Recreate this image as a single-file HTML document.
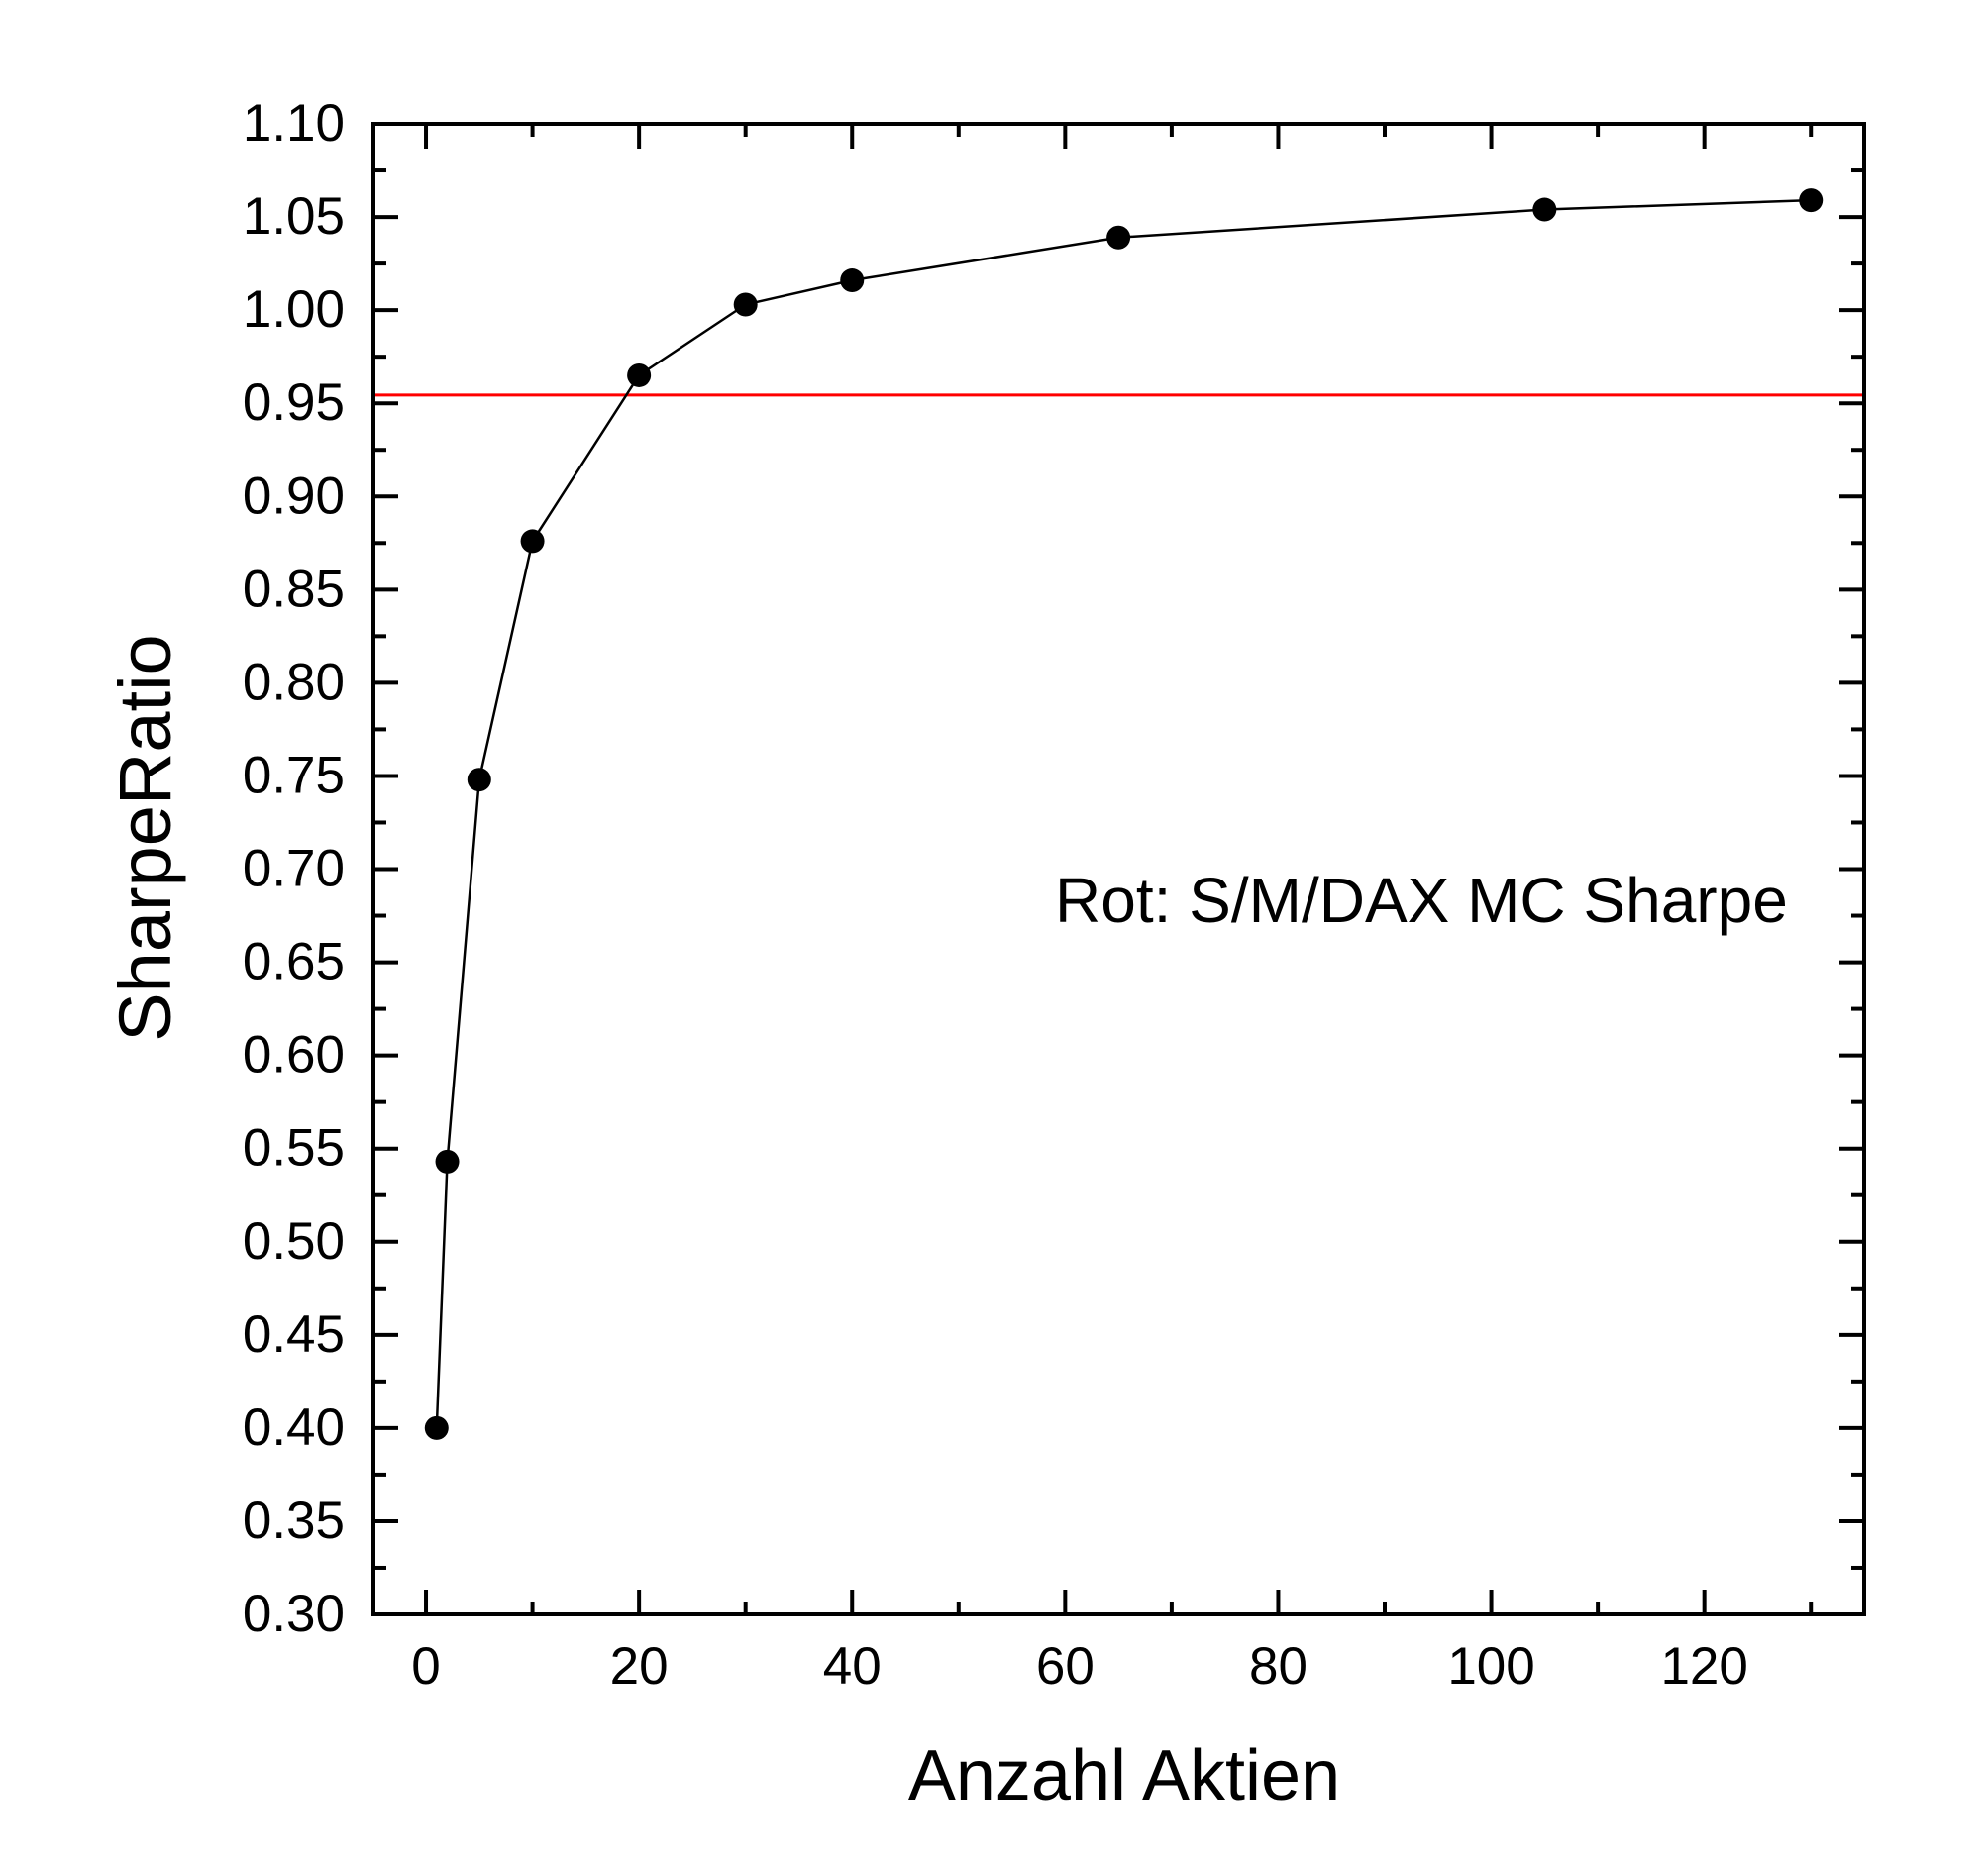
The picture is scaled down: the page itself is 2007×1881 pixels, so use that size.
<!DOCTYPE html>
<html><head><meta charset="utf-8"><style>
html,body{margin:0;padding:0;background:#fff;}
svg{display:block;font-family:"Liberation Sans",Arial,sans-serif;}
</style></head><body>
<svg id="chart" width="2007" height="1881" viewBox="0 0 2007 1881" xmlns="http://www.w3.org/2000/svg">
<rect width="2007" height="1881" fill="#fff"/>
<g id="grid"></g>
<text x="1065" y="931" font-size="64">Rot: S/M/DAX MC Sharpe</text>
<text transform="translate(172,846) rotate(-90)" text-anchor="middle" font-size="74">SharpeRatio</text>
<text x="1135" y="1817" text-anchor="middle" font-size="72">Anzahl Aktien</text>
</svg>
<script>
const xValues = [1, 2, 5, 10, 20, 30, 40, 65, 105, 130];
const sharpeValues = [0.400, 0.543, 0.748, 0.876, 0.965, 1.003, 1.016, 1.039, 1.054, 1.059];
const referenceValue = 0.9544;
const xTickValues = [0, 20, 40, 60, 80, 100, 120];
const yTickValues = [0.30,0.35,0.40,0.45,0.50,0.55,0.60,0.65,0.70,0.75,0.80,0.85,0.90,0.95,1.00,1.05,1.10];

const L=377,R=1882,T=125,B=1630;
const xMin=-4.93,xMax=135,yMin=0.30,yMax=1.10;
const sx=v=>L+(v-xMin)/(xMax-xMin)*(R-L);
const sy=v=>B-(v-yMin)/(yMax-yMin)*(B-T);
const NS="http://www.w3.org/2000/svg";
const g=document.getElementById('grid');
function mk(tag,attrs,parent){const e=document.createElementNS(NS,tag);for(const k in attrs)e.setAttribute(k,attrs[k]);(parent||g).appendChild(e);return e;}

const ref=mk('line',{x1:L,x2:R,y1:sy(referenceValue),y2:sy(referenceValue),stroke:'#f00','stroke-width':3});



for(let i=0;i<yTickValues.length;i++){
  const y=sy(yTickValues[i]);
  const t1=mk('line',{x1:L,x2:L+25,y1:y,y2:y,stroke:'#000','stroke-width':4});
  
  
  mk('line',{x1:R,x2:R-25,y1:y,y2:y,stroke:'#000','stroke-width':4});
  if(i<yTickValues.length-1){
    const ym=sy(yTickValues[i]+0.025);
    mk('line',{x1:L,x2:L+13,y1:ym,y2:ym,stroke:'#000','stroke-width':4});
    mk('line',{x1:R,x2:R-13,y1:ym,y2:ym,stroke:'#000','stroke-width':4});
  }
  const lab=mk('text',{x:348,y:y+17,'text-anchor':'end','font-size':53});
  lab.textContent=yTickValues[i].toFixed(2);
  
  
}
for(let i=0;i<xTickValues.length;i++){
  const x=sx(xTickValues[i]);
  const t=mk('line',{x1:x,x2:x,y1:B,y2:B-25,stroke:'#000','stroke-width':4});
  
  
  mk('line',{x1:x,x2:x,y1:T,y2:T+25,stroke:'#000','stroke-width':4});
  const xm=sx(xTickValues[i]+10);
  mk('line',{x1:xm,x2:xm,y1:B,y2:B-13,stroke:'#000','stroke-width':4});
  mk('line',{x1:xm,x2:xm,y1:T,y2:T+13,stroke:'#000','stroke-width':4});
  const lab=mk('text',{x:x,y:1700,'text-anchor':'middle','font-size':53});
  lab.textContent=xTickValues[i];
  
  
}
const frame=mk('rect',{x:L,y:T,width:R-L,height:B-T,fill:'none',stroke:'#000','stroke-width':4});



const pts=xValues.map((x,i)=>sx(x)+','+sy(sharpeValues[i])).join(' ');
const line=mk('polyline',{points:pts,fill:'none',stroke:'#000','stroke-width':2.5});


for(let i=0;i<xValues.length;i++){
  const c=mk('circle',{cx:sx(xValues[i]),cy:sy(sharpeValues[i]),r:12,fill:'#000'});
  
  
}
</script>
</body></html>
